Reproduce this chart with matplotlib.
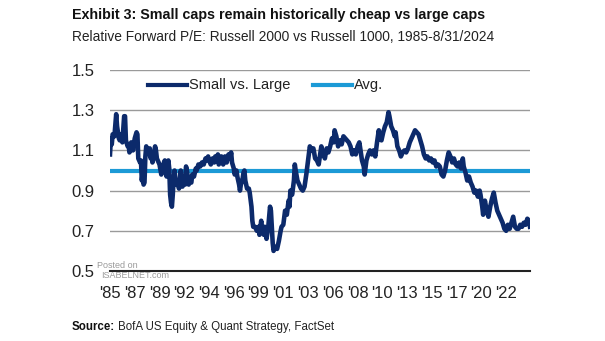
import matplotlib.pyplot as plt

plt.rcParams['font.family'] = ['Liberation Sans', 'DejaVu Sans']

# months since Jan 1985 and relative forward P/E
months = [0, 1, 2, 3, 5, 7, 8, 10, 11, 13, 14, 16, 17, 18, 20, 21, 22, 24, 26, 28,
          30, 31, 32, 34, 35, 36, 37, 38, 39, 40, 41, 42, 44, 45, 46, 47, 48, 50, 51, 52,
          53, 55, 56, 58, 60, 61, 62, 63, 64, 66, 67, 68, 69, 70, 71, 72, 73, 74, 75, 77,
          78, 80, 81, 82, 83, 85, 86, 87, 89, 90, 92, 93, 95, 97, 98, 100, 102, 104, 106, 108,
          109, 111, 112, 114, 116, 118, 119, 121, 122, 123, 125, 126, 128, 130, 132, 134, 136, 137, 138, 140,
          141, 143, 144, 146, 147, 148, 150, 151, 152, 153, 155, 157, 158, 160, 161, 162, 164, 166, 168, 169,
          171, 172, 174, 175, 177, 179, 181, 182, 183, 184, 185, 187, 189, 191, 193, 194, 196, 198, 200, 202,
          203, 204, 206, 208, 209, 210, 212, 214, 216, 218, 220, 222, 224, 226, 228, 230, 232, 234, 236, 238,
          239, 241, 243, 245, 247, 249, 251, 253, 254, 256, 258, 260, 262, 264, 266, 268, 270, 272, 274, 276,
          278, 280, 282, 283, 285, 287, 288, 290, 292, 294, 296, 298, 300, 302, 304, 305, 307, 309, 311, 313,
          315, 316, 318, 320, 322, 323, 325, 327, 329, 331, 333, 335, 337, 339, 341, 343, 345, 347, 349, 351,
          353, 355, 357, 359, 361, 363, 365, 367, 369, 371, 373, 375, 377, 379, 381, 383, 385, 387, 389, 391,
          393, 395, 397, 399, 400, 402, 404, 406, 408, 410, 412, 414, 416, 418, 419, 421, 422, 424, 426, 428,
          430, 432, 434, 436, 438, 440, 442, 444, 446, 448, 450, 452, 454, 456, 458, 460, 462, 464, 466, 468,
          470, 472, 474, 475]
small_vs_large = [1.08, 1.16, 1.13, 1.18, 1.17, 1.28, 1.22, 1.16, 1.15, 1.18, 1.14, 1.27, 1.27, 1.15, 1.12, 1.13, 1.09, 1.14, 1.10, 1.16,
                  1.19, 1.18, 1.06, 1.04, 1.05, 0.95, 0.99, 0.93, 0.94, 1.07, 1.12, 1.10, 1.08, 1.11, 1.06, 1.09, 1.04, 1.09, 1.12, 1.10,
                  1.06, 1.04, 1.03, 0.98, 1.01, 1.04, 1.05, 0.99, 0.97, 1.05, 1.01, 0.88, 0.84, 0.82, 0.88, 0.96, 1.00, 0.96, 0.93, 0.94,
                  0.91, 1.00, 0.95, 0.92, 0.95, 0.93, 1.02, 1.00, 0.93, 0.95, 0.94, 0.98, 0.97, 1.01, 1.00, 1.03, 1.02, 1.04, 1.03, 1.06,
                  1.05, 1.07, 1.05, 1.03, 1.06, 1.04, 1.07, 1.05, 1.08, 1.03, 1.05, 1.07, 1.03, 1.07, 1.04, 1.08, 1.06, 1.09, 1.04, 1.01,
                  0.98, 1.00, 0.97, 0.93, 0.90, 0.93, 0.96, 0.99, 1.00, 0.95, 0.91, 0.91, 0.89, 0.82, 0.75, 0.72, 0.72, 0.70, 0.72, 0.68,
                  0.75, 0.70, 0.68, 0.72, 0.66, 0.72, 0.82, 0.80, 0.72, 0.64, 0.60, 0.62, 0.61, 0.65, 0.70, 0.72, 0.73, 0.80, 0.78, 0.85,
                  0.82, 0.90, 0.88, 0.95, 1.03, 1.00, 0.95, 0.93, 0.91, 0.90, 0.92, 0.98, 1.05, 1.12, 1.10, 1.11, 1.06, 1.05, 1.03, 1.09,
                  1.12, 1.08, 1.06, 1.11, 1.09, 1.12, 1.16, 1.14, 1.20, 1.17, 1.12, 1.15, 1.13, 1.17, 1.16, 1.15, 1.14, 1.12, 1.08, 1.10,
                  1.08, 1.12, 1.14, 1.11, 1.05, 1.02, 0.98, 1.05, 1.08, 1.10, 1.08, 1.10, 1.07, 1.14, 1.20, 1.16, 1.15, 1.19, 1.22, 1.24,
                  1.29, 1.27, 1.22, 1.20, 1.17, 1.19, 1.12, 1.10, 1.07, 1.09, 1.10, 1.09, 1.11, 1.14, 1.16, 1.18, 1.20, 1.19, 1.18, 1.15,
                  1.12, 1.08, 1.06, 1.07, 1.05, 1.06, 1.04, 1.05, 1.02, 1.03, 1.02, 0.98, 0.97, 1.00, 1.05, 1.09, 1.07, 1.04, 1.06, 1.03,
                  1.02, 1.04, 1.01, 1.06, 1.02, 0.99, 0.95, 0.97, 0.94, 0.92, 0.89, 0.90, 0.87, 0.90, 0.88, 0.82, 0.78, 0.85, 0.80, 0.77,
                  0.82, 0.86, 0.89, 0.84, 0.80, 0.78, 0.76, 0.74, 0.71, 0.70, 0.73, 0.71, 0.74, 0.77, 0.72, 0.71, 0.71, 0.73, 0.72, 0.74,
                  0.73, 0.76, 0.75, 0.72]
avg = 1.0

tick_months = list(range(0, 476, 28))
tick_labels = ["'85", "'87", "'89", "'92", "'94", "'96", "'99", "'01", "'03", "'06",
               "'08", "'10", "'13", "'15", "'17", "'20", "'22"]
y_ticks = [0.5, 0.7, 0.9, 1.1, 1.3, 1.5]

navy = '#0c2a6b'
blue = '#1c9ad6'
W, H = 605, 341

fig = plt.figure(figsize=(W / 100, H / 100), dpi=100)
ax = fig.add_axes([110 / W, 1 - 271 / H, 420 / W, 201 / H])

for y in y_ticks[1:]:
    ax.axhline(y, color='#9a9a9a', linewidth=1, zorder=1)
ax.axhline(avg, color=blue, linewidth=3, zorder=2, label='Avg.')
ax.plot(months, small_vs_large, color=navy, linewidth=3.3, zorder=3, label='Small vs. Large')

ax.set_xlim(0, 475)
ax.set_ylim(0.5, 1.5)
ax.set_yticks(y_ticks)
ax.set_yticklabels(['0.5', '0.7', '0.9', '1.1', '1.3', '1.5'], fontsize=12, color='#222222')
ax.set_xticks(tick_months)
ax.set_xticklabels(tick_labels, fontsize=12, color='#222222')
ax.tick_params(axis='y', length=0, pad=11)
ax.tick_params(axis='x', length=0, pad=11)
for s in ['top', 'right', 'left']:
    ax.spines[s].set_visible(False)
ax.spines['bottom'].set_color('#222222')
ax.spines['bottom'].set_linewidth(1.5)

# legend drawn as line samples in figure coords
ly = 1 - 85 / H
fig.add_artist(plt.Line2D([148 / W, 187 / W], [ly, ly], color=navy, linewidth=3))
fig.text(189 / W, ly, 'Small vs. Large', fontsize=10.5, va='center', color='#222222')
fig.add_artist(plt.Line2D([313 / W, 352 / W], [ly, ly], color=blue, linewidth=3))
fig.text(354 / W, ly, 'Avg.', fontsize=10.5, va='center', color='#222222')

fig.text(72 / W, 1 - 15 / H, 'Exhibit 3: Small caps remain historically cheap vs large caps',
         fontsize=10.3, fontweight='bold', va='center', color='#111111')
fig.text(72 / W, 1 - 37 / H, 'Relative Forward P/E: Russell 2000 vs Russell 1000, 1985-8/31/2024',
         fontsize=9.9, va='center', color='#222222')

src = fig.text(72 / W, 1 - 327 / H, 'Source:', fontsize=8.3, fontweight='bold', va='center', color='#111111')
fig.canvas.draw()
bb = src.get_window_extent()
fig.text((bb.x1 + 3) / W, 1 - 327 / H, 'BofA US Equity & Quant Strategy, FactSet',
         fontsize=8.3, va='center', color='#222222')

# watermark
fig.text(97 / W, 1 - 265 / H, 'Posted on', fontsize=6.5, color='#9a9a9a', va='center')
fig.text(101 / W, 1 - 276 / H, 'ISABELNET.com', fontsize=6.5, color='#9a9a9a', va='center')

fig.savefig('out.png', dpi=100)
